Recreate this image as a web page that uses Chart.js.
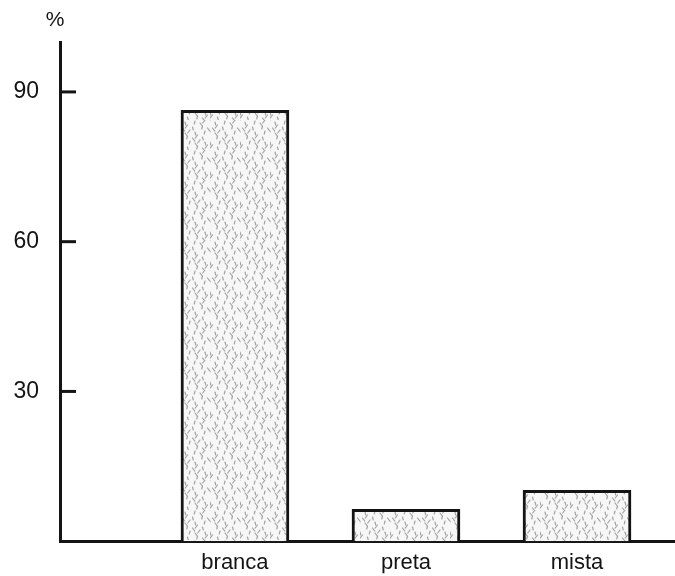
<!DOCTYPE html>
<html>
<head>
<meta charset="utf-8">
<script src="https://cdn.jsdelivr.net/npm/chart.js@4.4.1/dist/chart.umd.min.js"></script>
<style>
  html, body { margin: 0; padding: 0; background: #fff; }
  #wrap { width: 675px; height: 576px; }
</style>
</head>
<body>
<div id="wrap"><canvas id="chart" width="675" height="576"></canvas></div>
<script>
// dados do grafico
const categories = ["branca", "preta", "mista"];
const values = [86.3, 6.4, 10.2];
const yTicks = [30, 60, 90];
const unitLabel = "%";

const ink = "#141414";
const fontFamily = "'Liberation Sans', Arial, sans-serif";

// textura pontilhada dos blocos (so estilo)
function makeTexture() {
  const c = document.createElement("canvas");
  c.width = 30; c.height = 30;
  const g = c.getContext("2d");
  g.fillStyle = "#f7f7f7";
  g.fillRect(0, 0, 30, 30);
  g.strokeStyle = "#a3a3a3";
  g.lineWidth = 1.2;
  g.lineCap = "round";
  for (let i = 0; i < 6; i++) {
    for (let j = 0; j < 6; j++) {
      const k = (i * 7 + j * 13) % 5;
      if (k > 3) continue;
      const x = i * 5 + (j % 2) * 2.5;
      const y = j * 5 + k;
      g.beginPath();
      g.moveTo(x, y);
      g.lineTo(x + (k - 1.5) * 1.5, y + 3);
      g.stroke();
    }
  }
  return g.createPattern(c, "repeat");
}

// tracinhos do eixo y para dentro + simbolo de %
const axisExtras = {
  id: "axisExtras",
  afterDraw(chart) {
    const ctx = chart.ctx;
    const y = chart.scales.y;
    const left = chart.chartArea.left;
    ctx.save();
    ctx.strokeStyle = ink;
    ctx.lineWidth = 3;
    yTicks.forEach((v) => {
      const py = y.getPixelForValue(v);
      ctx.beginPath();
      ctx.moveTo(left, py);
      ctx.lineTo(left + 16, py);
      ctx.stroke();
    });
    ctx.fillStyle = ink;
    ctx.font = "21px " + fontFamily;
    ctx.textAlign = "center";
    ctx.textBaseline = "middle";
    ctx.fillText(unitLabel, left - 5, chart.chartArea.top - 22);
    ctx.restore();
  }
};

new Chart(document.getElementById("chart"), {
  type: "bar",
  data: {
    datasets: [{
      data: values.map((v, i) => ({ x: i + 1, y: v })),
      backgroundColor: makeTexture(),
      borderColor: ink,
      borderWidth: 3,
      borderSkipped: "bottom",
      barThickness: 108
    }]
  },
  options: {
    responsive: false,
    animation: false,
    devicePixelRatio: 1,
    layout: { padding: { top: 42, left: 0, right: 0, bottom: 0 } },
    plugins: { legend: { display: false }, tooltip: { enabled: false } },
    scales: {
      x: {
        type: "linear",
        offset: false,
        min: -0.023,
        max: 3.573,
        afterBuildTicks: (s) => { s.ticks = categories.map((c, i) => ({ value: i + 1 })); },
        afterFit: (s) => { s.height = 32; },
        ticks: {
          color: ink,
          padding: 9,
          font: { family: fontFamily, size: 22 },
          callback: (v) => categories[v - 1] || ""
        },
        grid: { display: false, tickLength: 0 },
        border: { display: true, color: ink, width: 3 }
      },
      y: {
        min: 0,
        max: 100,
        afterBuildTicks: (s) => { s.ticks = yTicks.map((v) => ({ value: v })); },
        afterFit: (s) => { s.width = 60; },
        ticks: {
          color: ink,
          padding: 21,
          font: { family: fontFamily, size: 23 }
        },
        grid: { display: false, tickLength: 0 },
        border: { display: true, color: ink, width: 3 }
      }
    }
  },
  plugins: [axisExtras]
});
</script>
</body>
</html>
